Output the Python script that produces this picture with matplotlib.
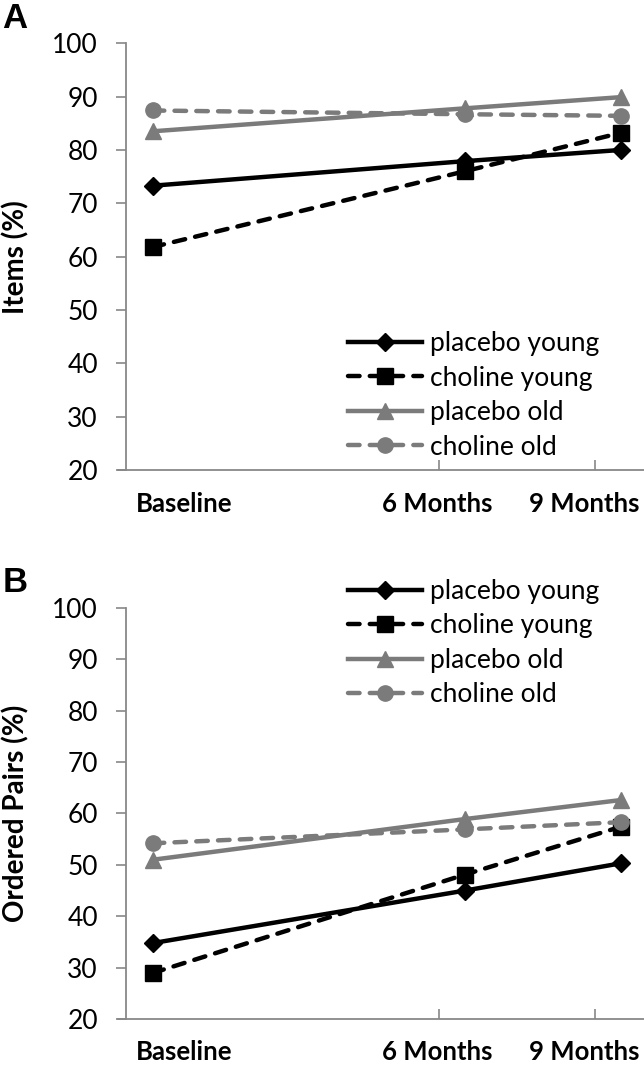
import matplotlib
matplotlib.use('Agg')
import matplotlib.pyplot as plt
import matplotlib.transforms as mtransforms

# months since start
months = [0, 6, 9]
time_labels = ['Baseline', '6 Months', '9 Months']
label_pos = [0.6, 5.48, 8.3]
series_names = ['placebo young', 'choline young', 'placebo old', 'choline old']

items_placebo_young = [73.3, 77.9, 80.0]
items_choline_young = [61.8, 76.0, 83.2]
items_placebo_old = [83.5, 87.8, 89.9]
items_choline_old = [87.4, 86.7, 86.4]

pairs_placebo_young = [34.8, 45.0, 50.3]
pairs_choline_young = [29.0, 48.1, 57.4]
pairs_placebo_old = [51.0, 58.9, 62.6]
pairs_choline_old = [54.2, 56.9, 58.3]

GRAY = '#7b7b7b'
AXC = '#888888'
DASH = (0, (2.6, 2.3))
styles = [
    dict(color='black', ls='-', marker='D', ms=9.5),
    dict(color='black', ls=DASH, marker='s', ms=11),
    dict(color=GRAY, ls='-', marker='^', ms=12),
    dict(color=GRAY, ls=DASH, marker='o', ms=11),
]

plt.rcParams['font.family'] = ['Lato', 'DejaVu Sans']

fig = plt.figure(figsize=(6.44, 10.82), dpi=100)
axA = fig.add_axes([0.1952, 0.5656, 0.8048, 0.3944])
axB = fig.add_axes([0.1952, 0.0580, 0.8048, 0.3804])


def draw_panel(ax, data, ylabel, letter, legend_anchor):
    for vals, name, st in zip(data, series_names, styles):
        ax.plot(months, vals, color=st['color'], ls=st['ls'], lw=3.2,
                dash_capstyle='round', marker=st['marker'], ms=st['ms'],
                label=name, clip_on=False)
    ax.set_xlim(-0.52, 9.45)
    ax.set_ylim(20, 100)
    ax.set_yticks(range(20, 101, 10))
    ax.tick_params(axis='y', direction='out', length=7, width=1.2, color=AXC,
                   labelsize=19, pad=13)
    ax.set_xticks([5.5, 8.5])
    ax.set_xticklabels(['', ''])
    ax.tick_params(axis='x', direction='in', length=7, width=1.2, color=AXC)
    for s in ['top', 'right']:
        ax.spines[s].set_visible(False)
    for s in ['left', 'bottom']:
        ax.spines[s].set_color(AXC)
        ax.spines[s].set_linewidth(1.3)
    ax.spines['bottom'].set_bounds(-0.67, 9.45)
    ax.set_ylabel(ylabel, fontsize=20, fontweight='bold')
    ax.yaxis.set_label_coords(-0.185, 0.5)
    trans = mtransforms.blended_transform_factory(ax.transData, ax.transAxes)
    for x, lab in zip(label_pos, time_labels):
        ax.text(x, -0.08, lab, transform=trans, ha='center', va='center',
                fontsize=18.5, fontweight='bold')
    ax.legend(loc='upper left', bbox_to_anchor=legend_anchor,
              bbox_transform=fig.transFigure, frameon=False, fontsize=19,
              handlelength=2.8, handletextpad=0.3, labelspacing=0.36,
              borderpad=0, borderaxespad=0)
    fig.text(0.004, ax.get_position().y1 + 0.008, letter, fontsize=25,
             fontweight='bold', family='Liberation Sans', va='bottom')


draw_panel(axA, [items_placebo_young, items_choline_young, items_placebo_old,
                 items_choline_old], 'Items (%)', 'A', (0.540, 0.6940))
draw_panel(axB, [pairs_placebo_young, pairs_choline_young, pairs_placebo_old,
                 pairs_choline_old], 'Ordered Pairs (%)', 'B', (0.540, 0.4650))

fig.savefig('out.png', dpi=100)
